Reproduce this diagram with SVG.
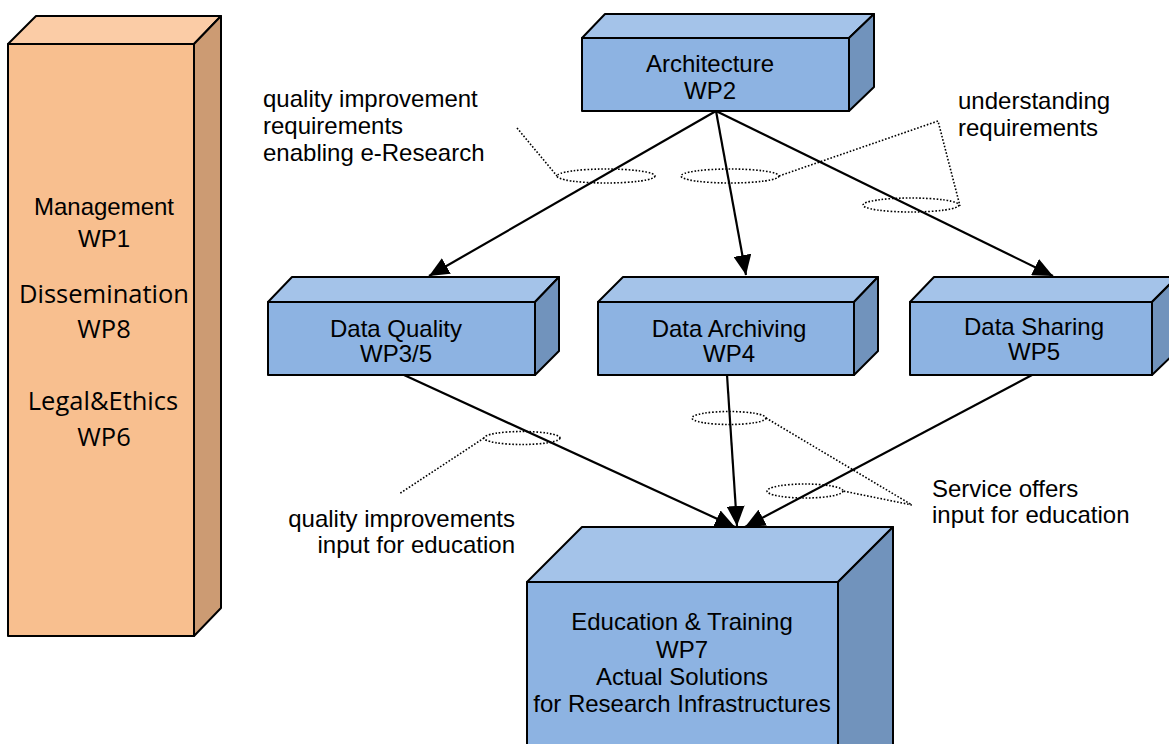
<svg xmlns="http://www.w3.org/2000/svg" width="1169" height="744" viewBox="0 0 1169 744">
  <style>
    .face { stroke: #000; stroke-width: 2; stroke-linejoin: round; }
    .o-front { fill: #F8BF8F; }
    .o-top { fill: #FBCCA6; }
    .o-side { fill: #CC9B73; }
    .b-front { fill: #8DB3E2; }
    .b-top { fill: #A4C3E9; }
    .b-side { fill: #7193BC; }
    .lbl { font-family: "Liberation Sans", Arial, sans-serif; font-size: 24px; fill: #000; }
    .mid { text-anchor: middle; }
    .cal { font-family: "Open Sans", "Liberation Sans", sans-serif; font-size: 25.5px; }
    .link { fill: none; stroke: #000; stroke-width: 2.2; }
    .dot { fill: none; stroke: #000; stroke-width: 1.6; stroke-dasharray: 1.6 1.8; }
  </style>
  <defs>
    <marker id="arrow" markerUnits="userSpaceOnUse" markerWidth="22" markerHeight="18" refX="20" refY="9" orient="auto">
      <path d="M0,0 L20,9 L0,18 Z" fill="#000"/>
    </marker>
  </defs>
  <rect width="1169" height="744" fill="#fff"/>

  <!-- side column: management / dissemination / legal -->
  <g id="wp-side">
    <polygon class="face o-top" points="8,44 36,16 221,16 194,44"/>
    <polygon class="face o-side" points="194,44 221,16 221,608 194,636"/>
    <rect class="face o-front" x="8" y="44" width="186" height="592"/>
    <text class="lbl mid" x="104" y="215">Management</text>
    <text class="lbl mid" x="104" y="247">WP1</text>
    <text class="lbl cal mid" x="104" y="303">Dissemination</text>
    <text class="lbl cal mid" x="104" y="338">WP8</text>
    <text class="lbl cal mid" x="103" y="410">Legal&amp;Ethics</text>
    <text class="lbl cal mid" x="104" y="446">WP6</text>
  </g>

  <g id="wp2">
    <polygon class="face b-top" points="582,38 605,14 874,14 849,38"/>
    <polygon class="face b-side" points="849,38 874,14 874,87 849,111"/>
    <rect class="face b-front" x="582" y="38" width="267" height="73"/>
    <text class="lbl mid" x="710" y="72">Architecture</text>
    <text class="lbl mid" x="710" y="99">WP2</text>
  </g>

  <g id="wp35">
    <polygon class="face b-top" points="268,302 292,277 559,277 535,302"/>
    <polygon class="face b-side" points="535,302 559,277 559,351 535,375"/>
    <rect class="face b-front" x="268" y="302" width="267" height="73"/>
    <text class="lbl mid" x="396" y="337">Data Quality</text>
    <text class="lbl mid" x="396" y="362">WP3/5</text>
  </g>

  <g id="wp4">
    <polygon class="face b-top" points="598,302 623,277 878,277 854,302"/>
    <polygon class="face b-side" points="854,302 878,277 878,351 854,375"/>
    <rect class="face b-front" x="598" y="302" width="256" height="73"/>
    <text class="lbl mid" x="729" y="337">Data Archiving</text>
    <text class="lbl mid" x="729" y="362">WP4</text>
  </g>

  <g id="wp5">
    <polygon class="face b-top" points="910,302 934,277 1177,277 1152,302"/>
    <polygon class="face b-side" points="1152,302 1177,277 1177,351 1152,375"/>
    <rect class="face b-front" x="910" y="302" width="242" height="73"/>
    <text class="lbl mid" x="1034" y="335">Data Sharing</text>
    <text class="lbl mid" x="1034" y="360">WP5</text>
  </g>

  <g id="wp7">
    <polygon class="face b-top" points="527,582 582,527 893,527 838,582"/>
    <polygon class="face b-side" points="838,582 893,527 893,760 838,760"/>
    <rect class="face b-front" x="527" y="582" width="311" height="180"/>
    <text class="lbl mid" x="682" y="630">Education &amp; Training</text>
    <text class="lbl mid" x="682" y="658">WP7</text>
    <text class="lbl mid" x="682" y="685">Actual Solutions</text>
    <text class="lbl mid" x="682" y="712">for Research Infrastructures</text>
  </g>

  <!-- flows between work packages -->
  <g id="connectors">
    <line class="link" x1="716" y1="111" x2="429" y2="276" marker-end="url(#arrow)"/>
    <line class="link" x1="716" y1="111" x2="746" y2="275" marker-end="url(#arrow)"/>
    <line class="link" x1="716" y1="111" x2="1053" y2="276" marker-end="url(#arrow)"/>
    <line class="link" x1="404" y1="375" x2="735" y2="527" marker-end="url(#arrow)"/>
    <line class="link" x1="727" y1="375" x2="737" y2="526" marker-end="url(#arrow)"/>
    <line class="link" x1="1032" y1="375" x2="745" y2="527" marker-end="url(#arrow)"/>
  </g>

  <!-- callouts -->
  <g id="callouts">
    <ellipse class="dot" cx="606" cy="176" rx="49" ry="7"/>
    <polyline class="dot" points="517,128 557,176"/>
    <ellipse class="dot" cx="730" cy="176" rx="49" ry="7"/>
    <ellipse class="dot" cx="911" cy="205" rx="48" ry="7"/>
    <polyline class="dot" points="779,176 938,121 960,206"/>
    <ellipse class="dot" cx="522" cy="438" rx="38" ry="6.5"/>
    <polyline class="dot" points="484,438 399,494"/>
    <ellipse class="dot" cx="729" cy="418" rx="37" ry="6.5"/>
    <ellipse class="dot" cx="805" cy="491" rx="38" ry="7"/>
    <polyline class="dot" points="766,418 912,505 843,491"/>

    <text class="lbl" x="263" y="107">quality improvement</text>
    <text class="lbl" x="263" y="134">requirements</text>
    <text class="lbl" x="263" y="161">enabling e-Research</text>
    <text class="lbl" x="958" y="109">understanding</text>
    <text class="lbl" x="958" y="136">requirements</text>
    <text class="lbl" x="515" y="527" text-anchor="end">quality improvements</text>
    <text class="lbl" x="515" y="553" text-anchor="end">input for education</text>
    <text class="lbl" x="932" y="497">Service offers</text>
    <text class="lbl" x="932" y="523">input for education</text>
  </g>
</svg>
